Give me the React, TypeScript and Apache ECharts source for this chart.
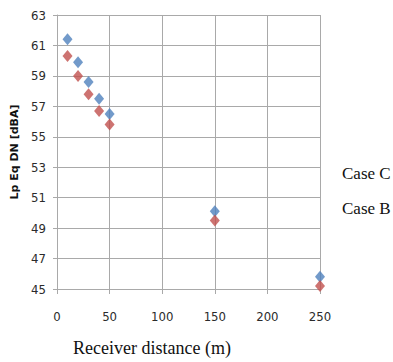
import React, { useEffect, useRef } from "react";
import * as echarts from "echarts";

const distances = [10, 20, 30, 40, 50, 150, 250];
const caseC = [61.4, 59.9, 58.6, 57.5, 56.5, 50.1, 45.8];
const caseB = [60.3, 59.0, 57.8, 56.7, 55.8, 49.5, 45.2];
const seriesNames = ["Case C", "Case B"];
const xTitle = "Receiver distance (m)";
const yTitle = "Lp Eq DN [dBA]";

export default function App() {
  const ref = useRef<HTMLDivElement>(null);
  useEffect(() => {
    if (!ref.current) return;
    const chart = echarts.init(ref.current, undefined, { renderer: "svg" });
    const gridColor = "#a9a9a9";
    const tickFont = "'Liberation Sans Narrow', 'DejaVu Sans Condensed', sans-serif";
    const serif = "'Liberation Serif', 'Times New Roman', serif";
    chart.setOption({
      animation: false,
      backgroundColor: "#ffffff",
      grid: { left: 57, right: 73, top: 15, bottom: 70, containLabel: false },
      legend: {
        orient: "vertical",
        left: 332,
        top: 160,
        icon: "none",
        itemWidth: 0,
        itemHeight: 17,
        itemGap: 18,
        data: seriesNames,
        textStyle: { fontFamily: serif, fontSize: 17, color: "#111" },
      },
      xAxis: {
        type: "value",
        min: 0,
        max: 250,
        interval: 50,
        name: xTitle,
        nameLocation: "middle",
        nameGap: 50,
        nameTextStyle: {
          fontFamily: serif,
          fontSize: 18,
          color: "#111",
          padding: [0, 73, 0, 0],
        },
        axisLine: { show: true, lineStyle: { color: gridColor } },
        axisTick: { show: true, length: 5, lineStyle: { color: gridColor } },
        axisLabel: { fontFamily: tickFont, fontSize: 13, color: "#2b2b2b", margin: 21 },
        splitLine: { show: true, lineStyle: { color: gridColor, width: 1 } },
      },
      yAxis: {
        type: "value",
        min: 45,
        max: 63,
        interval: 2,
        name: yTitle,
        nameLocation: "middle",
        nameGap: 34,
        nameTextStyle: {
          fontFamily: "'DejaVu Sans', Verdana, sans-serif",
          fontSize: 11,
          fontWeight: "bold",
          color: "#111",
        },
        axisLine: { show: true, lineStyle: { color: gridColor } },
        axisTick: { show: true, length: 4, lineStyle: { color: gridColor } },
        axisLabel: { fontFamily: tickFont, fontSize: 13, color: "#2b2b2b", margin: 11 },
        splitLine: { show: true, lineStyle: { color: gridColor, width: 1 } },
      },
      series: [
        {
          name: seriesNames[0],
          type: "scatter",
          symbol: "diamond",
          symbolSize: [10, 12],
          itemStyle: { color: "#4f81bd" },
          data: distances.map((d, i) => [d, caseC[i]]),
        },
        {
          name: seriesNames[1],
          type: "scatter",
          symbol: "diamond",
          symbolSize: [10, 12],
          itemStyle: { color: "#c0504d" },
          data: distances.map((d, i) => [d, caseB[i]]),
        },
      ],
    });
    return () => chart.dispose();
  }, []);
  return (
    <div
      ref={ref}
      style={{ position: "fixed", left: 0, top: 0, width: 393, height: 362, background: "#fff" }}
    />
  );
}
